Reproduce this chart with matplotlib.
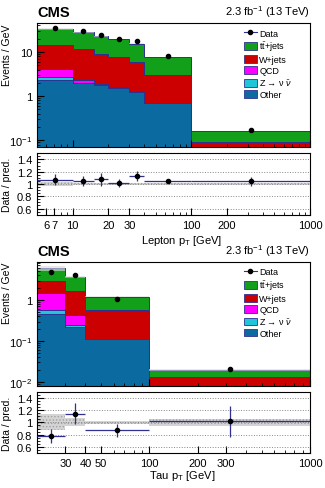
import numpy as np
import matplotlib
matplotlib.use("Agg")
import matplotlib.pyplot as plt
from matplotlib.patches import Patch
from matplotlib.lines import Line2D
from matplotlib.ticker import FixedLocator, FuncFormatter, NullFormatter, LogLocator, MultipleLocator

plt.rcParams['font.family'] = ['Liberation Sans', 'DejaVu Sans']
plt.rcParams['mathtext.fontset'] = 'custom'
plt.rcParams['mathtext.rm'] = 'Liberation Sans'
plt.rcParams['mathtext.it'] = 'Liberation Sans:italic'
plt.rcParams['mathtext.bf'] = 'Liberation Sans:bold'
plt.rcParams['hatch.linewidth'] = 0.6

# ---- lepton pT (events / GeV) ----
lep_edges = [5, 10, 15, 20, 30, 40, 100, 1000]
lep_other = [2.31, 1.97, 1.78, 1.57, 1.26, 0.69, 0.030]
lep_znn = [0.35, 0.05, 0.05, 0.04, 0.03, 0.01, 0.004]
lep_qcd = [1.54, 0.33, 0.02, 0.02, 0.01, 0.005, 0.002]
lep_wjets = [10.2, 9.35, 7.15, 6.27, 4.5, 2.35, 0.054]
lep_tt = [18.6, 16.3, 13.5, 11.6, 9.7, 4.75, 0.073]
lep_data = [35.0, 29.6, 24.0, 19.5, 17.5, 8.2, 0.17]
lep_ratio = [1.067, 1.05, 1.073, 1.015, 1.13, 1.05, 1.04]
lep_ratio_err = [0.09, 0.08, 0.10, 0.07, 0.08, 0.03, 0.08]
lep_band = [0.035, 0.015, 0.015, 0.012, 0.012, 0.01, 0.01]

# ---- tau pT (events / GeV) ----
tau_edges = [20, 30, 40, 100, 1000]
tau_other = [0.445, 0.217, 0.11, 0.004]
tau_znn = [0.135, 0.03, 0.003, 0.0005]
tau_qcd = [0.88, 0.18, 0.002, 0.0003]
tau_wjets = [1.54, 1.2, 0.465, 0.0088]
tau_tt = [3.0, 2.07, 0.64, 0.0064]
tau_data = [4.8, 4.2, 1.06, 0.0205]
tau_ratio = [0.775, 1.145, 0.868, 1.016]
tau_ratio_err = [0.11, 0.17, 0.105, 0.25]
tau_band = [0.13, 0.065, 0.03, 0.06]

labels = ['Other', r'Z → ν $\bar{\nu}$', 'QCD', 'W+jets', r't$\bar{\rm t}$+jets']
colors = ['#0b6a9f', '#1fc6d8', '#ff00ff', '#cc0000', '#12a01a']
edge_col = '#2e3192'


def sci_label(v, pos):
    if v == 1:
        return '1'
    if v == 10:
        return '10'
    return r'$10^{%d}$' % round(np.log10(v))


def draw(ax, axr, edges, comps, data, ratio, ratio_err, band, ylim, yticks, xticks,
         xlabel, xlabel_y):
    edges = np.array(edges, dtype=float)
    centers = np.sqrt(edges[:-1] * edges[1:])
    bottom = np.full(len(edges) - 1, 1e-5)
    for vals, col in zip(comps, colors):
        top = bottom + np.array(vals)
        ax.stairs(top, edges, baseline=bottom, fill=True, facecolor=col,
                  edgecolor=edge_col, linewidth=0.7)
        bottom = top
    total = bottom
    band = np.array(band)
    ax.stairs(total * (1 + band), edges, baseline=total * (1 - band), fill=True,
              facecolor=(0.85, 0.85, 0.85, 0.6), edgecolor='none', linewidth=0)
    ax.errorbar(centers, data, fmt='o', color='black', ms=3, zorder=5)

    ax.set_xscale('log')
    ax.set_yscale('log')
    ax.set_xlim(edges[0], edges[-1])
    ax.set_ylim(*ylim)
    ax.yaxis.set_major_locator(FixedLocator(yticks))
    ax.yaxis.set_major_formatter(FuncFormatter(sci_label))
    ax.yaxis.set_minor_locator(LogLocator(subs=np.arange(2, 10)))
    ax.yaxis.set_minor_formatter(NullFormatter())
    ax.xaxis.set_major_formatter(NullFormatter())
    ax.xaxis.set_minor_formatter(NullFormatter())
    ax.set_ylabel('Events / GeV', fontsize=7.5, loc='top')
    ax.yaxis.set_label_coords(-0.092, 1.0)
    ax.tick_params(axis='both', which='both', direction='in', labelsize=8,
                   top=False, right=False)
    ax.tick_params(which='major', length=5)
    ax.tick_params(which='minor', length=2.5)

    handles = [Line2D([], [], color=edge_col, marker='o', mfc='black', mec='black',
                      ms=3, lw=0.8)]
    handles += [Patch(facecolor=c, edgecolor=edge_col, lw=0.6) for c in colors[::-1]]
    ax.legend(handles, ['Data'] + labels[::-1], loc='upper left',
              bbox_to_anchor=(0.745, 0.985), frameon=False, fontsize=6.5,
              handlelength=1.4, handleheight=0.9, labelspacing=0.22,
              handletextpad=0.3, borderaxespad=0)

    ax.text(0.0, 1.03, 'CMS', transform=ax.transAxes, fontsize=10.5,
            fontweight='bold', ha='left', va='bottom')
    ax.text(1.0, 1.03, r'2.3 fb$^{-1}$ (13 TeV)', transform=ax.transAxes,
            fontsize=8, ha='right', va='bottom')

    # ratio panel
    axr.stairs(1 + band, edges, baseline=1 - band, fill=True,
               facecolor='#d4d4d4', edgecolor='#a0a0a0', hatch='.....', linewidth=0)
    axr.errorbar(centers, ratio,
                 xerr=[centers - edges[:-1], edges[1:] - centers],
                 yerr=ratio_err, fmt='o', color=edge_col, mfc='black', mec='black',
                 ms=3, elinewidth=0.9, capsize=0, zorder=5)
    axr.set_xscale('log')
    axr.set_xlim(edges[0], edges[-1])
    axr.set_ylim(0.5, 1.5)
    axr.yaxis.set_major_locator(FixedLocator([0.6, 0.8, 1.0, 1.2, 1.4]))
    axr.yaxis.set_major_formatter(FuncFormatter(lambda v, p: '%g' % round(v, 1)))
    axr.yaxis.set_minor_locator(MultipleLocator(0.05))
    axr.xaxis.set_major_locator(FixedLocator(xticks))
    axr.xaxis.set_major_formatter(FuncFormatter(lambda v, p: '%d' % round(v)))
    axr.xaxis.set_minor_formatter(NullFormatter())
    axr.grid(axis='y', which='major', linestyle=':', color='#888888', linewidth=0.7)
    axr.set_ylabel('Data / pred.', fontsize=7.5)
    axr.yaxis.set_label_coords(-0.092, 0.5)
    axr.set_xlabel(xlabel, fontsize=8)
    axr.xaxis.set_label_coords(0.53, xlabel_y)
    axr.tick_params(axis='both', which='both', direction='in', labelsize=8,
                    top=False, right=False)
    axr.tick_params(which='major', length=5)
    axr.tick_params(which='minor', length=2.5)


fig = plt.figure(figsize=(3.25, 4.89), dpi=100)
ax1 = fig.add_axes([0.114, 0.697, 0.840, 0.2536])
ax1r = fig.add_axes([0.114, 0.559, 0.840, 0.1256])
ax2 = fig.add_axes([0.114, 0.209, 0.840, 0.2536])
ax2r = fig.add_axes([0.114, 0.0716, 0.840, 0.125])

draw(ax1, ax1r, lep_edges,
     [lep_other, lep_znn, lep_qcd, lep_wjets, lep_tt],
     lep_data, lep_ratio, lep_ratio_err, lep_band,
     (0.07, 45), [0.1, 1, 10], [6, 7, 10, 20, 30, 100, 200, 1000],
     r'Lepton p$_{\rm T}$ [GeV]', -0.30)
draw(ax2, ax2r, tau_edges,
     [tau_other, tau_znn, tau_qcd, tau_wjets, tau_tt],
     tau_data, tau_ratio, tau_ratio_err, tau_band,
     (0.0081, 8.6), [0.01, 0.1, 1], [30, 40, 50, 100, 200, 300, 1000],
     r'Tau p$_{\rm T}$ [GeV]', -0.24)

fig.savefig('out.png', dpi=100)
